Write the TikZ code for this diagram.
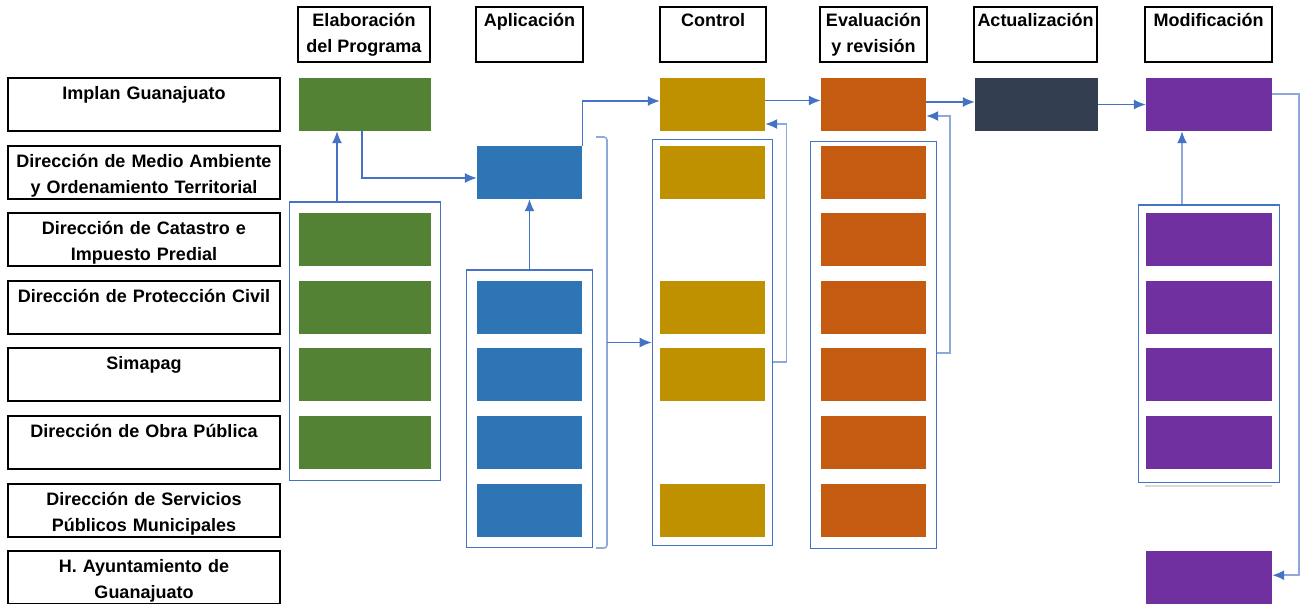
\documentclass[tikz,border=0pt]{standalone}
\usepackage{fontspec}
\setmainfont{Liberation Sans}
\usepackage{tikz}
\usetikzlibrary{arrows.meta}
\usetikzlibrary{fit,backgrounds,positioning}
\definecolor{verde}{HTML}{548235}
\definecolor{azul}{HTML}{2E75B6}
\definecolor{oro}{HTML}{BF9000}
\definecolor{naranja}{HTML}{C55A11}
\definecolor{pizarra}{HTML}{333F50}
\definecolor{morado}{HTML}{7030A0}
\definecolor{conector}{HTML}{4472C4}
\definecolor{palido}{HTML}{8EA9DB}
\tikzstyle{header} = [rectangle, draw, line width=2pt, inner sep=0pt, align=center,
font=\bfseries\fontsize{18}{26}\selectfont, minimum height=55,
execute at begin node={\rule{0pt}{20pt}}, execute at end node={\rule[-4pt]{0pt}{4pt}}]
\tikzstyle{dep} = [rectangle, draw, line width=2pt, minimum width=272, minimum height=53,
text width=266, align=center, inner sep=0pt, font=\bfseries\fontsize{18}{26}\selectfont,
execute at begin node={\rule{0pt}{20pt}}, execute at end node={\rule[-4pt]{0pt}{4pt}}]
\tikzstyle{block} = [rectangle, minimum height=53, inner sep=0pt]
\tikzstyle{grupo} = [rectangle, draw=conector, line width=1.3pt]
\tikzstyle{line} = [draw=conector, line width=1.3pt, -{Latex[length=12pt,width=10pt]}]
\tikzstyle{back} = [draw=palido, line width=1.6pt, -{Latex[length=12pt,width=10pt,color=conector]}]
\tikzstyle{brace} = [draw=palido, line width=1.6pt, rounded corners=3pt]

\begin{document}
\begin{tikzpicture}[x=1pt, y=-1pt, node distance=67.6pt]
\useasboundingbox (0,0) rectangle (1303,603);
% Place headers
\node [header, minimum width=132] (h1) at (364,34.5) {Elaboración\\del Programa};
\node [header, minimum width=107] (h2) at (529.5,34.5) {Aplicación\\~};
\node [header, minimum width=106] (h3) at (713,34.5) {Control\\~};
\node [header, minimum width=107] (h4) at (873.5,34.5) {Evaluación\\y revisión};
\node [header, minimum width=123] (h5) at (1035.5,34.5) {Actualización\\~};
\node [header, minimum width=127] (h6) at (1208.5,34.5) {Modificación\\~};

% Place rows
\node [dep] (r1) at (144,104.5) {Implan Guanajuato\\~};
\node [dep, below of=r1] (r2) {Dirección de Medio Ambiente\\y Ordenamiento Territorial};
\node [dep, below of=r2] (r3) {Dirección de Catastro e\\Impuesto Predial};
\node [dep, below of=r3] (r4) {Dirección de Protección Civil\\~};
\node [dep, below of=r4] (r5) {Simapag\\~};
\node [dep, below of=r5] (r6) {Dirección de Obra Pública\\~};
\node [dep, below of=r6] (r7) {Dirección de Servicios\\Públicos Municipales};
\node [dep, below of=r7] (r8) {H. Ayuntamiento de\\Guanajuato};

% Elaboracion
\node [block, fill=verde, minimum width=132] (g1) at (365,104.5) {};
\node [block, fill=verde, minimum width=132] (g3) at (g1 |- r3) {};
\node [block, fill=verde, minimum width=132] (g4) at (g1 |- r4) {};
\node [block, fill=verde, minimum width=132] (g5) at (g1 |- r5) {};
\node [block, fill=verde, minimum width=132] (g6) at (g1 |- r6) {};
\node [grupo, fit=(g3)(g6), inner xsep=9pt, inner ysep=11pt] (gG) {};

% Aplicacion
\node [block, fill=azul, minimum width=105] (b2) at (529.5,172.5) {};
\node [block, fill=azul, minimum width=105] (b4) at (b2 |- r4) {};
\node [block, fill=azul, minimum width=105] (b5) at (b2 |- r5) {};
\node [block, fill=azul, minimum width=105] (b6) at (b2 |- r6) {};
\node [block, fill=azul, minimum width=105] (b7) at (b2 |- r7) {};
\node [grupo, fit=(b4)(b7), inner xsep=10.5pt, inner ysep=10.5pt] (bG) {};

% Control
\node [block, fill=oro, minimum width=105] (c1) at (712.5,104.5) {};
\node [block, fill=oro, minimum width=105] (c2) at (c1 |- r2) {};
\node [block, fill=oro, minimum width=105] (c4) at (c1 |- r4) {};
\node [block, fill=oro, minimum width=105] (c5) at (c1 |- r5) {};
\node [block, fill=oro, minimum width=105] (c7) at (c1 |- r7) {};
\node [grupo, fit=(c2)(c7), inner xsep=7.5pt, inner ysep=7.5pt, yshift=-1.5pt] (cG) {};

% Evaluacion
\node [block, fill=naranja, minimum width=105] (e1) at (873.5,104.5) {};
\node [block, fill=naranja, minimum width=105] (e2) at (e1 |- r2) {};
\node [block, fill=naranja, minimum width=105] (e3) at (e1 |- r3) {};
\node [block, fill=naranja, minimum width=105] (e4) at (e1 |- r4) {};
\node [block, fill=naranja, minimum width=105] (e5) at (e1 |- r5) {};
\node [block, fill=naranja, minimum width=105] (e6) at (e1 |- r6) {};
\node [block, fill=naranja, minimum width=105] (e7) at (e1 |- r7) {};
\node [grupo, fit=(e2)(e7), inner xsep=10pt, inner ysep=8pt, yshift=-4pt] (eG) {};

% Actualizacion y Modificacion
\node [block, fill=pizarra, minimum width=123] (a1) at (1036.5,104.5) {};
\node [block, fill=morado, minimum width=126] (m1) at (1209,104.5) {};
\node [block, fill=morado, minimum width=126] (m3) at (m1 |- r3) {};
\node [block, fill=morado, minimum width=126] (m4) at (m1 |- r4) {};
\node [block, fill=morado, minimum width=126] (m5) at (m1 |- r5) {};
\node [block, fill=morado, minimum width=126] (m6) at (m1 |- r6) {};
\node [block, fill=morado, minimum width=126] (m8) at (m1 |- r8) {};
\node [grupo, fit=(m3)(m6), inner xsep=7pt, inner ysep=10.5pt, yshift=-2.5pt] (mG) {};
\draw [gray!30, line width=1.5pt] ([xshift=7pt,yshift=-3pt]mG.south west) -- ([xshift=-8pt,yshift=-3pt]mG.south east);

% Draw edges
\path [line] ([xshift=-28pt]gG.north) -- ([xshift=-28pt]gG.north |- g1.south);
\path [line] ([xshift=-3pt]g1.south) |- ([yshift=-5.5pt]b2.west);
\path [line] (bG.north) -- (b2.south);
\path [line] (b2.north east) |- ([yshift=3.5pt]c1.west);
\path [line] ([yshift=4pt]c1.east) -- ([yshift=4pt]e1.west);
\path [back] ([yshift=-19.5pt]cG.east) -- ++(13,0) |- ([yshift=-19.5pt]c1.east);
\path [line] ([yshift=2.5pt]e1.east) -- ([yshift=2.5pt]a1.west);
\path [back] ([yshift=-8pt]eG.east) -- ++(13,0) |- ([yshift=-11.5pt]e1.east);
\path [line] (a1.east) -- (m1.west);
\path [back] ([xshift=-27pt]mG.north) -- ([xshift=-27pt]mG.north |- m1.south);
\path [back] ([yshift=10.5pt]m1.east) -- ++(27,0) |- ([yshift=2.5pt]m8.east);
\draw [brace] (596,137) -- (607,137) -- (607,548) -- (596,548);
\coordinate (brk) at (607,342.5);
\path [line] (brk) -- (brk -| cG.west);
\end{tikzpicture}
\end{document}
